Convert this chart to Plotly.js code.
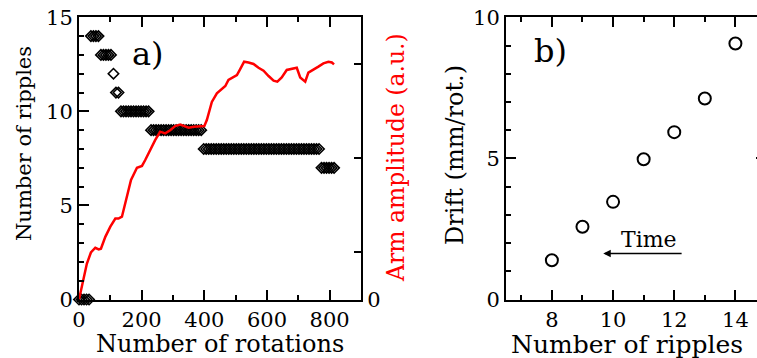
<!DOCTYPE html>
<html><head><meta charset="utf-8">
<script src="https://cdn.plot.ly/plotly-3.0.1.min.js"></script>
<style>html,body{margin:0;padding:0;overflow:hidden;background:#fff;width:757px;height:358px}#chart{width:768px;height:358px}</style>
</head><body><div id="chart"></div><script>
// Panel a: number of ripples vs rotations
const rotations = [0,8,16,24,32, 38,46,54,62, 70,78,86,94,102, 110, 118,126,
  134,142,150,158,166,174,182,190,198,206,214,222,
  230,238,246,254,262,270,278,286,294,302,310,318,326,334,342,350,358,366,374,382,390,
  398,406,414,422,430,438,446,454,462,470,478,486,494,502,510,518,526,534,542,550,558,566,574,582,590,598,606,614,622,630,638,646,654,662,670,678,686,694,702,710,718,726,734,742,750,758,766,
  774,782,790,798,806,814];
const ripples = [0,0,0,0,0, 14,14,14,14, 13,13,13,13,13, 12, 11,11,
  10,10,10,10,10,10,10,10,10,10,10,10,
  9,9,9,9,9,9,9,9,9,9,9,9,9,9,9,9,9,9,9,9,9,
  8,8,8,8,8,8,8,8,8,8,8,8,8,8,8,8,8,8,8,8,8,8,8,8,8,8,8,8,8,8,8,8,8,8,8,8,8,8,8,8,8,8,8,8,8,8,8,
  7,7,7,7,7,7];
// Panel a: arm amplitude (a.u.) vs rotations
const ampRotations = [0,15,25,38,52,63,70,84,100,116,126,137,153,166,185,201,211,227,243,259,275,291,307,323,334,350,366,387,400,408,424,440,456,467,477,493,504,514,527,541,557,573,589,605,621,633,647,663,679,695,706,722,732,748,764,780,796,807,814];
const armAmplitude = [0,0.24,0.38,0.5,0.55,0.532,0.54,0.666,0.774,0.86,0.86,0.88,1.092,1.27,1.4,1.42,1.48,1.588,1.694,1.784,1.766,1.8,1.844,1.86,1.844,1.826,1.836,1.844,1.844,1.908,2.1,2.192,2.234,2.27,2.334,2.36,2.386,2.446,2.528,2.52,2.504,2.464,2.432,2.376,2.326,2.316,2.36,2.44,2.45,2.464,2.36,2.316,2.412,2.44,2.476,2.51,2.528,2.52,2.5];
// Panel b: drift vs number of ripples
const driftRipples = [8,9,10,11,12,13,14];
const driftValues = [1.39,2.58,3.46,4.97,5.93,7.12,9.07];
// Right-axis tick labels (panel a)
const ampTickVals = [0,0.5,1.5,2.5];
const ampTickText = ['0','','',''];

const FONT = 'DejaVu Serif';
const W = 768, H = 358;
const px = v => v / W, py = v => 1 - v / H;
const yDom = [py(299.5), py(17.3)];

const baseAxis = {
  showgrid:false, zeroline:false, showline:true, linecolor:'black', linewidth:2,
  ticks:'inside', tickcolor:'black', tickwidth:2, ticklen:10,
  tickfont:{family:FONT, size:21, color:'black'}
};

const traces = [
  {x:rotations, y:ripples, xaxis:'x', yaxis:'y', mode:'markers', type:'scatter', cliponaxis:false,
   marker:{symbol:'diamond-open', size:8, color:'black', line:{width:1.6, color:'black'}}},
  {x:ampRotations, y:armAmplitude, xaxis:'x', yaxis:'y2', mode:'lines', type:'scatter',
   line:{color:'#ff0000', width:2.5}},
  {x:driftRipples, y:driftValues, xaxis:'x2', yaxis:'y3', mode:'markers', type:'scatter', cliponaxis:false,
   marker:{symbol:'circle-open', size:12, color:'black', line:{width:2, color:'black'}}}
];

const ann = (text, x, y, size, extra) => Object.assign({
  text, x, y, xref:'paper', yref:'paper', showarrow:false, xanchor:'center', yanchor:'middle',
  font:{family:FONT, size, color:'black'}}, extra || {});

const layout = {
  width:W, height:H, margin:{l:0, r:0, t:0, b:0}, showlegend:false,
  font:{family:FONT, color:'black'},
  paper_bgcolor:'white', plot_bgcolor:'white',
  xaxis:Object.assign({}, baseAxis, {domain:[px(79), px(361)], range:[0,900], dtick:200, tick0:0, anchor:'y', mirror:'ticks',
    minor:{dtick:100, tick0:0, ticks:'inside', ticklen:5, tickwidth:2, tickcolor:'black'}}),
  yaxis:Object.assign({}, baseAxis, {domain:yDom, range:[0,15], dtick:5, tick0:0, anchor:'x', mirror:true,
    minor:{dtick:1, tick0:0, ticks:'inside', ticklen:5, tickwidth:2, tickcolor:'black'}}),
  yaxis2:Object.assign({}, baseAxis, {overlaying:'y', side:'right', anchor:'x', range:[0,3],
    tickmode:'array', tickvals:ampTickVals, ticktext:ampTickText, ticklen:7}),
  xaxis2:Object.assign({}, baseAxis, {domain:[px(506), px(766)], range:[6.5,15], dtick:2, tick0:0, anchor:'y3', mirror:'ticks',
    minor:{dtick:1, tick0:0, ticks:'inside', ticklen:5, tickwidth:2, tickcolor:'black'}}),
  yaxis3:Object.assign({}, baseAxis, {domain:yDom, range:[0,10], dtick:5, tick0:0, anchor:'x2', mirror:'ticks',
    minor:{dtick:1, tick0:0, ticks:'inside', ticklen:5, tickwidth:2, tickcolor:'black'}}),
  annotations:[
    ann('a)', px(147.5), py(54), 32),
    ann('b)', px(550), py(51), 32),
    ann('Number of ripples', px(24), py(144), 21, {textangle:-90}),
    ann('Number of rotations', px(220), py(344), 24),
    ann('Arm amplitude (a.u.)', px(396), py(158), 23.5, {textangle:-90, font:{family:FONT, size:23.5, color:'#ff0000'}}),
    ann('Drift (mm/rot.)', px(455), py(155), 24, {textangle:-90}),
    ann('Number of ripples', px(627), py(344), 25),
    {text:'Time', x:11.17, y:2.14, xref:'x2', yref:'y3', showarrow:false, font:{family:FONT, size:22, color:'black'}},
    {text:'', x:9.68, y:1.63, xref:'x2', yref:'y3', axref:'x2', ayref:'y3', ax:12.29, ay:1.63,
     showarrow:true, arrowhead:2, arrowsize:1, arrowwidth:1.5, arrowcolor:'black', standoff:0}
  ]
};

Plotly.newPlot('chart', traces, layout, {displayModeBar:false, staticPlot:true});
</script></body></html>
